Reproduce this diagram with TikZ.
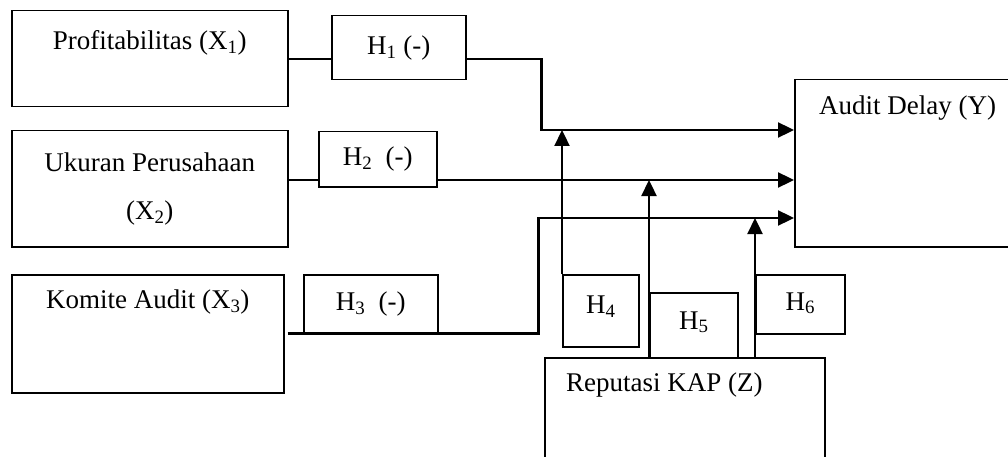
\documentclass[tikz,border=0pt]{standalone}
\usepackage{fontspec}
\setmainfont{Liberation Serif}
\usetikzlibrary{arrows.meta}
\begin{document}
\begin{tikzpicture}[x=1pt,y=-1pt,font=\fontsize{27}{32.4}\selectfont,
    box/.style={draw,line width=1.5pt,anchor=north west,inner sep=0pt},
    lbl/.style={inner sep=0pt},
    link/.style={line width=2.3pt},
    arr/.style={link,-{Triangle[length=16pt,width=15pt]}}]
  \useasboundingbox(0,0)rectangle(1008,457);
  \clip(0,0)rectangle(1008,457);
  % variabel
  \node[box,minimum width=276pt,minimum height=96pt](x1)at(11,10){};
  \node[box,minimum width=276pt,minimum height=116pt](x2)at(11,130){};
  \node[box,minimum width=272pt,minimum height=118pt](x3)at(11,274){};
  \node[box,minimum width=240pt,minimum height=167pt](y)at(794,79){};
  \node[box,minimum width=280pt,minimum height=130pt](z)at(544,357){};
  \node[lbl](tx1)at([yshift=-33pt]x1.north){Profitabilitas (X\textsubscript{1})};
  \node[lbl,align=center](tx2)at([yshift=-59pt]x2.north){Ukuran Perusahaan\\[15pt](X\textsubscript{2})};
  \node[lbl](tx3)at([yshift=-28pt]x3.north){Komite Audit (X\textsubscript{3})};
  \node[lbl,anchor=west](ty)at([xshift=25pt,yshift=-29pt]y.north west){Audit Delay (Y)};
  \node[lbl,anchor=west](tz)at([xshift=22pt,yshift=-28pt]z.north west){Reputasi KAP (Z)};
  % hipotesis
  \node[box,minimum width=134pt,minimum height=64pt](h1)at(331,15){};
  \node[box,minimum width=118pt,minimum height=55pt](h2)at(318,131){};
  \node[box,minimum width=134pt,minimum height=58pt](h3)at(303,274){};
  \node[box,minimum width=76pt,minimum height=72pt](h4)at(562,274){};
  \node[box,minimum width=88pt,minimum height=65pt](h5)at(649,292){};
  \node[box,minimum width=89pt,minimum height=59pt](h6)at(755,274){};
  \node[lbl]at(h1){H\textsubscript{1} (-)};
  \node[lbl]at(h2){H\textsubscript{2}~~(-)};
  \node[lbl]at(h3){H\textsubscript{3}~~(-)};
  \node[lbl]at([yshift=4pt]h4){H\textsubscript{4}};
  \node[lbl]at([yshift=3pt]h5){H\textsubscript{5}};
  \node[lbl]at([yshift=1pt]h6){H\textsubscript{6}};
  \path(y.north west)++(0,51)coordinate(y1)++(0,50)coordinate(y2)++(0,38)coordinate(y3);
  % jalur
  \draw[link](x1.east)--(x1.east-|h1.west);
  \draw[arr](h1.east|-x1.east)--++(75,0)|-(y1);
  \draw[link](x2.east|-y2)--(h2.west|-y2);
  \draw[arr](h2.east|-y2)--(y2);
  \draw[arr]([xshift=3pt]x3.east|-h3.south)--++(251,0)|-(y3);
  \draw[arr](h4.north west)--(h4.north west|-y1);
  \draw[arr](h5.south west)--(h5.south west|-y2);
  \draw[arr](h6.north west|-z.north)--(h6.north west|-y3);
\end{tikzpicture}
\end{document}
